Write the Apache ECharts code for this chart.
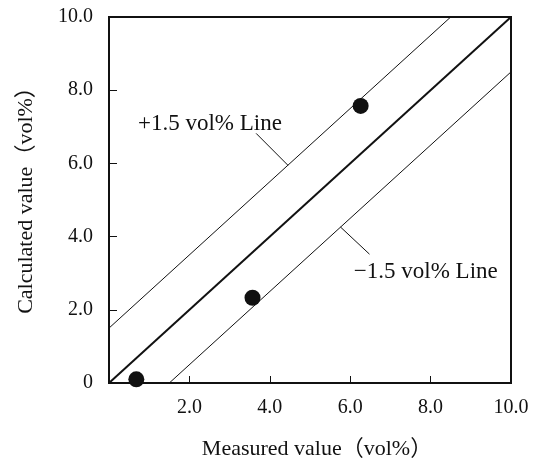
<!DOCTYPE html>
<html>
<head>
<meta charset="utf-8">
<script src="https://cdn.jsdelivr.net/npm/echarts@6/dist/echarts.min.js"></script>
<style>html,body{margin:0;padding:0;background:#fff}#c{width:540px;height:462px}</style>
</head>
<body>
<div id="c"></div>
<script>
// Data
var measured = [0.68, 3.57, 6.26];
var calculated = [0.10, 2.33, 7.57];
var axisTicks = [0, 2, 4, 6, 8, 10];
var lineOffset = 1.5;
var identityLine = [[0, 0], [10, 10]];
var upperLine = [[0, 1.5], [8.5, 10]];
var lowerLine = [[1.5, 0], [10, 8.5]];
var upperLeader = [[3.66, 6.82], [4.45, 5.95]];
var lowerLeader = [[5.76, 4.26], [6.48, 3.52]];
var annotationTexts = ['+1.5 vol% Line', '\u22121.5 vol% Line'];
var annotationAnchors = [[2.51, 7.07], [7.88, 3.03]];

var FONT = '"Liberation Serif", "Times New Roman", "Noto Sans CJK JP", serif';
var INK = '#111';
var chart = echarts.init(document.getElementById('c'), null, {renderer: 'canvas'});

function fmtY(v) { return v === 0 ? '0' : v.toFixed(1); }
function fmtX(v) { return v === 0 ? '' : v.toFixed(1); }

var points = measured.map(function (m, i) { return [m, calculated[i]]; });

function lineSeries(data, width) {
  return {
    type: 'line', data: data, symbol: 'none', silent: true,
    lineStyle: {color: INK, width: width}, z: 2, animation: false
  };
}

chart.setOption({
  animation: false,
  grid: {left: 109, top: 17, right: 29, bottom: 79, containLabel: false, outerBoundsMode: 'none',
    show: true, borderColor: INK, borderWidth: 2, backgroundColor: 'transparent'},
  xAxis: {
    type: 'value', min: 0, max: 10, interval: 2,
    name: 'Measured value\uFF08vol%\uFF09', nameLocation: 'middle', nameGap: 55,
    nameTextStyle: {fontFamily: FONT, fontSize: 22, color: INK, padding: [0, 0, 0, 14]},
    axisLine: {show: true, lineStyle: {color: INK, width: 2}},
    axisTick: {show: true, inside: true, length: 7, lineStyle: {color: INK, width: 1}},
    axisLabel: {formatter: fmtX, fontFamily: FONT, fontSize: 20, color: INK, margin: 15},
    splitLine: {show: false}
  },
  yAxis: {
    type: 'value', min: 0, max: 10, interval: 2,
    name: 'Calculated value\uFF08vol%\uFF09', nameLocation: 'middle', nameGap: 72,
    nameTextStyle: {fontFamily: FONT, fontSize: 22, color: INK, padding: [0, 0, 0, 10]},
    axisLine: {show: true, lineStyle: {color: INK, width: 2}},
    axisTick: {show: true, inside: true, length: 8, lineStyle: {color: INK, width: 1}},
    axisLabel: {formatter: fmtY, fontFamily: FONT, fontSize: 20, color: INK, margin: 16},
    splitLine: {show: false}
  },
  series: [
    lineSeries(identityLine, 2),
    lineSeries(upperLine, 1),
    lineSeries(lowerLine, 1),
    lineSeries(upperLeader, 1),
    lineSeries(lowerLeader, 1),
    {
      type: 'scatter', data: points, symbol: 'circle', symbolSize: 16,
      itemStyle: {color: INK, opacity: 1}, z: 5
    },
    {
      type: 'scatter', symbol: 'circle', symbolSize: 1, silent: true, z: 6,
      itemStyle: {color: 'rgba(255,255,255,0)', opacity: 1},
      data: annotationAnchors.map(function (a, i) {
        return {value: a, label: {show: true, formatter: annotationTexts[i]}};
      }),
      label: {show: true, position: 'inside', fontFamily: FONT, fontSize: 23, color: INK}
    }
  ]
});
</script>
</body>
</html>
